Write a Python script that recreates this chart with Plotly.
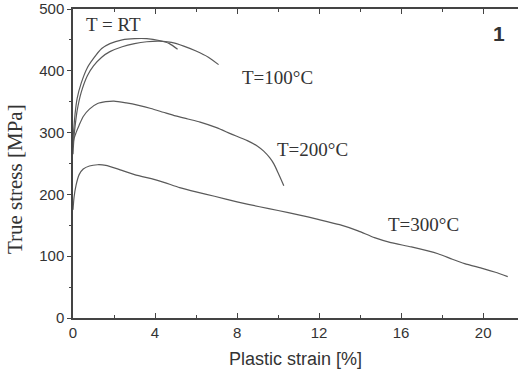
import plotly.graph_objects as go

# ---- data ----
rt1_x = [0, 0.1, 0.2, 0.4, 0.7, 1.0, 1.4, 1.8, 2.4, 3.0, 3.6, 4.2, 4.7, 5.1]
rt1_y = [290, 330, 355, 380, 405, 420, 436, 444, 450, 452, 452, 449, 444, 435]

rt2_x = [0, 0.1, 0.2, 0.4, 0.7, 1.0, 1.4, 1.8, 2.4, 3.0, 3.6, 4.2, 4.8, 5.4, 6.0, 6.6, 7.1]
rt2_y = [280, 310, 335, 365, 392, 408, 422, 431, 439, 444, 447, 448, 446, 440, 432, 422, 410]

t200_x = [0, 0.05, 0.15, 0.3, 0.5, 0.8, 1.2, 1.6, 2.0, 2.6, 3.2, 3.8, 4.4, 5.0, 5.6, 6.2,
          7.0, 7.7, 8.5, 9.0, 9.3, 9.6, 9.8, 10.0, 10.28]
t200_y = [265, 290, 300, 312, 326, 338, 347, 350, 351, 348, 344, 339, 333, 327, 322, 317,
          308, 298, 287, 278, 270, 259, 249, 235, 214]

t300_x = [0, 0.05, 0.15, 0.3, 0.5, 0.8, 1.2, 1.6, 2.2, 3.0, 4.2, 5.2, 6.0, 6.9, 8.0, 9.1,
          10.0, 11.0, 11.9, 13.0, 13.9, 14.7, 15.5, 16.5, 17.8, 18.5, 19.1, 20.0, 20.6, 21.2]
t300_y = [175, 195, 215, 232, 241, 246, 248, 247, 241, 232, 222, 211, 204, 197, 188, 180,
          174, 167, 160, 151, 141, 130, 122, 115, 104, 95, 88, 80, 74, 67]

labels = ["T = RT", "T=100°C", "T=200°C", "T=300°C"]
label_x = [1.98, 9.96, 11.67, 17.09]
label_y = [475, 389, 273, 152]

x_ticks = [0, 4, 8, 12, 16, 20]
y_ticks = [0, 100, 200, 300, 400, 500]

line_color = "#5a5a5a"
text_color = "#333333"
sans = "Liberation Sans, Arial, sans-serif"
serif = "Liberation Serif, Times New Roman, serif"

fig = go.Figure()
for xs, ys in [(rt1_x, rt1_y), (rt2_x, rt2_y), (t200_x, t200_y), (t300_x, t300_y)]:
    fig.add_trace(go.Scatter(x=xs, y=ys, mode="lines",
                             line=dict(color=line_color, width=1.2, shape="spline", smoothing=0.6),
                             showlegend=False, hoverinfo="skip"))

for t, x, y in zip(labels, label_x, label_y):
    fig.add_annotation(x=x, y=y, xref="x", yref="y", text=t, showarrow=False,
                       font=dict(family=serif, size=19, color=text_color))

fig.add_annotation(x=20.78, y=460, xref="x", yref="y", text="<b>1</b>", showarrow=False,
                   font=dict(family=sans, size=21, color=text_color))

# y-axis title placed as rotated text
fig.add_annotation(x=-0.13, y=0.45, xref="paper", yref="paper", text="True stress [MPa]",
                   textangle=-90, showarrow=False, xanchor="center", yanchor="middle",
                   font=dict(family=serif, size=21, color=text_color))

fig.update_layout(
    width=518, height=375,
    margin=dict(l=73, r=0, t=9, b=57),
    paper_bgcolor="white", plot_bgcolor="white",
    xaxis=dict(range=[0, 21.7], tickvals=x_ticks, ticktext=[str(v) for v in x_ticks],
               ticks="inside", ticklen=5, tickwidth=1.2, tickcolor="#444",
               minor=dict(tickvals=[2, 6, 10, 14, 18], ticklen=3, tickcolor="#444", ticks="inside"),
               showline=True, linecolor="#444", linewidth=1.5, mirror="ticks",
               showgrid=False, zeroline=False,
               tickfont=dict(family=sans, size=15, color=text_color),
               title=dict(text="Plastic strain [%]", standoff=13,
                          font=dict(family=sans, size=18, color=text_color))),
    yaxis=dict(range=[0, 500], tickvals=y_ticks, ticktext=[str(v) for v in y_ticks],
               ticks="outside", ticklen=4, tickwidth=1.2, tickcolor="#444",
               minor=dict(tickvals=[50, 150, 250, 350, 450], ticklen=2, tickcolor="#444"),
               showline=True, linecolor="#444", linewidth=1.5, mirror=False,
               showgrid=False, zeroline=False,
               tickfont=dict(family=sans, size=15, color=text_color)),
    yaxis2=dict(range=[0, 500], overlaying="y", side="right", tickvals=y_ticks,
                ticks="inside", ticklen=4, tickcolor="#444", showticklabels=False,
                showline=True, linecolor="#444", linewidth=1.5,
                showgrid=False, zeroline=False),
)

fig.write_html("out.html")
